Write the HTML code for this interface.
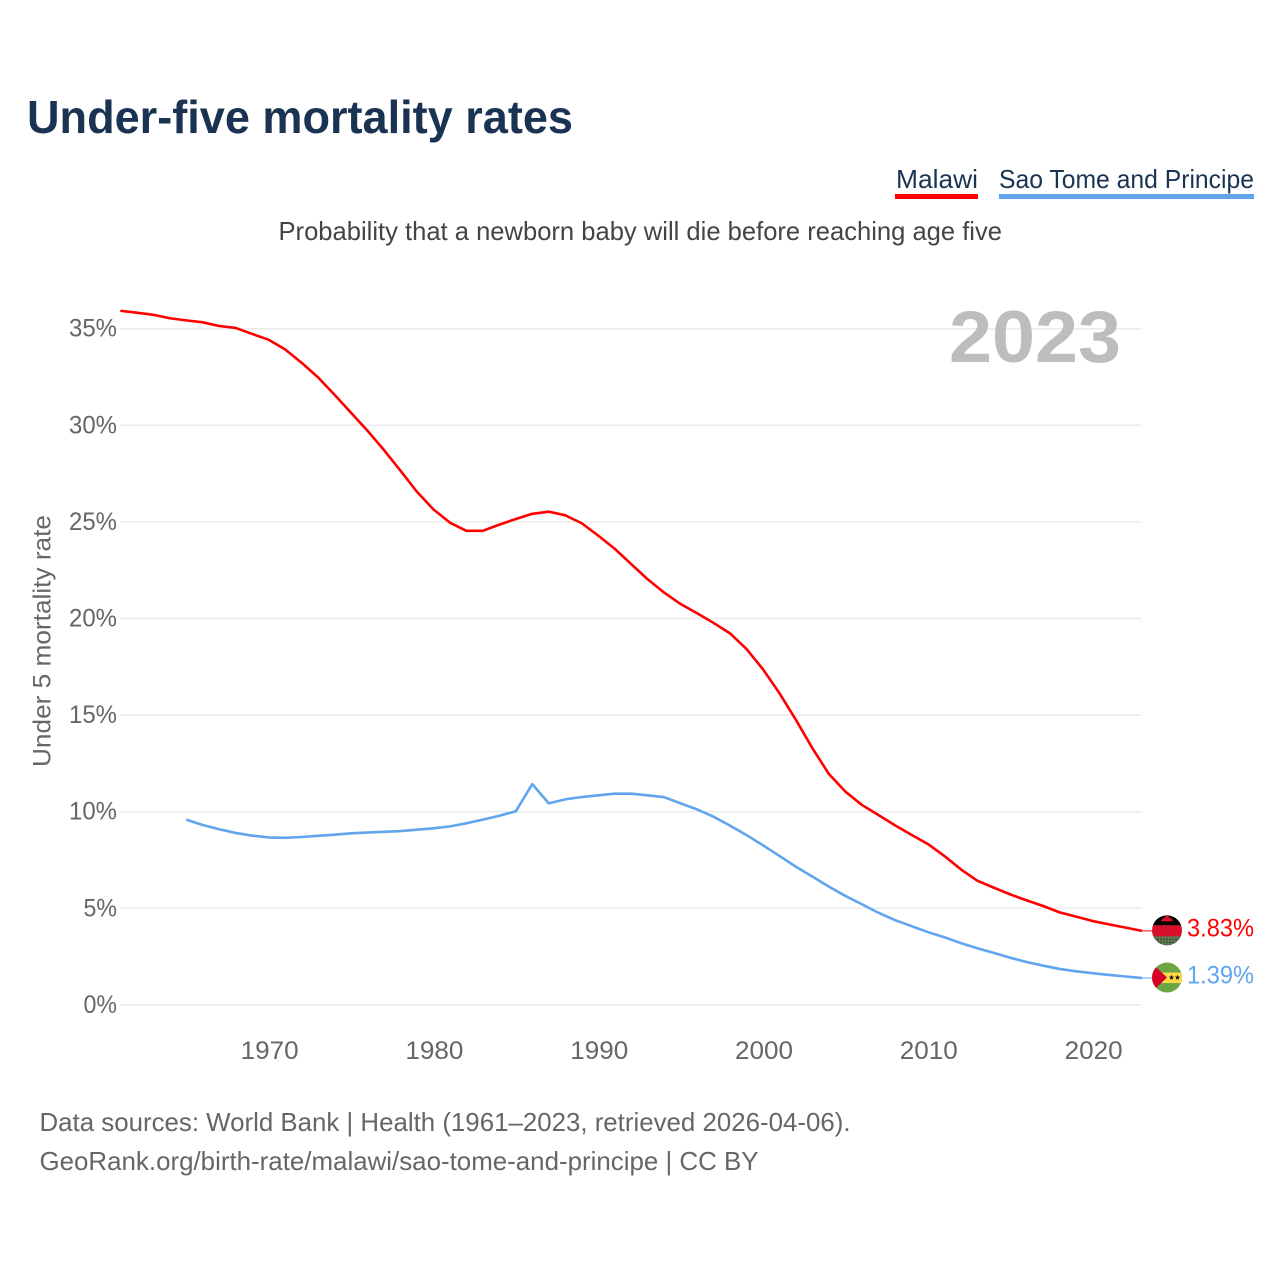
<!DOCTYPE html>
<html lang="en">
<head>
<meta charset="utf-8">
<title>Under-five mortality rates</title>
<style>
html,body{margin:0;padding:0;background:#fff;}
svg{display:block;font-family:"Liberation Sans",Arial,sans-serif;}
</style>
</head>
<body>
<svg id="chart" xmlns="http://www.w3.org/2000/svg" width="1280" height="1280" viewBox="0 0 1280 1280">
  <defs>
    <clipPath id="flag-clip"><circle cx="0" cy="0" r="15"/></clipPath>
    <pattern id="flag-dots" width="3" height="3" patternUnits="userSpaceOnUse">
      <rect width="3" height="3" fill="#46613a"/>
      <circle cx="1.5" cy="1.5" r="0.8" fill="#8f9a86"/>
    </pattern>
  </defs>
  <rect width="1280" height="1280" fill="#fff"/>
  <text x="27" y="133" font-size="46" font-weight="700" fill="#1a3353" textLength="546" lengthAdjust="spacingAndGlyphs">Under-five mortality rates</text>

  <g>
    <g>
      <text x="896" y="188" font-size="26" fill="#1a3353" textLength="82" lengthAdjust="spacingAndGlyphs">Malawi</text>
      <rect x="895" y="194" width="83" height="5" fill="#ff0000"/>
    </g>
    <g>
      <text x="999" y="188" font-size="26" fill="#1a3353" textLength="255" lengthAdjust="spacingAndGlyphs">Sao Tome and Principe</text>
      <rect x="999" y="194" width="255" height="5" fill="#60a5ee"/>
    </g>
  </g>

  <text x="278.5" y="240" font-size="26" fill="#444" textLength="723.5" lengthAdjust="spacingAndGlyphs">Probability that a newborn baby will die before reaching age five</text>

  <g id="grid"></g>
  <g id="yticks"></g>
  <g id="xticks"></g>

  <text transform="translate(50.5,767) rotate(-90)" x="0" y="0" font-size="25" fill="#666" textLength="252" lengthAdjust="spacingAndGlyphs">Under 5 mortality rate</text>

  <text x="949" y="362" font-size="73" font-weight="700" fill="#bdbdbd" textLength="172" lengthAdjust="spacingAndGlyphs">2023</text>

  <g id="series"></g>
  <g id="flags"></g>

  <text x="39.5" y="1131" font-size="26" fill="#666" textLength="811" lengthAdjust="spacingAndGlyphs">Data sources: World Bank | Health (1961–2023, retrieved 2026-04-06).</text>
  <text x="39.5" y="1170" font-size="26" fill="#666" textLength="719" lengthAdjust="spacingAndGlyphs">GeoRank.org/birth-rate/malawi/sao-tome-and-principe | CC BY</text>
</svg>

<script>
const malawiStartYear = 1961;
const saoTomeStartYear = 1965;
const malawiValues = [
  35.93,35.83,35.72,35.54,35.43,35.33,35.14,35.04,34.73,34.43,
  33.93,33.24,32.48,31.58,30.65,29.72,28.72,27.65,26.56,25.65,
  24.96,24.54,24.54,24.86,25.15,25.42,25.53,25.34,24.93,24.29,
  23.61,22.82,22.03,21.34,20.75,20.27,19.77,19.23,18.42,17.37,
  16.13,14.75,13.28,11.95,11.04,10.35,9.83,9.30,8.81,8.33,
  7.71,7.02,6.43,6.07,5.72,5.41,5.12,4.79,4.57,4.34,
  4.17,4.00,3.83
];
const saoTomeValues = [
  9.59,9.31,9.09,8.90,8.76,8.67,
  8.65,8.69,8.75,8.81,8.88,8.92,8.96,9.00,9.07,9.14,
  9.24,9.40,9.59,9.79,10.02,11.43,10.43,10.64,10.76,10.85,
  10.93,10.93,10.85,10.75,10.43,10.12,9.74,9.28,8.79,8.26,
  7.71,7.15,6.64,6.12,5.64,5.21,4.77,4.39,4.08,3.77,
  3.50,3.20,2.93,2.69,2.44,2.22,2.03,1.86,1.74,1.64,
  1.55,1.47,1.39
];
const yTickValues = [0,5,10,15,20,25,30,35];
const xTickYears = [1970,1980,1990,2000,2010,2020];

const NS = 'http://www.w3.org/2000/svg';
const xScale = year => 120.3 + (year - 1961) * 16.48;
const yScale = value => 1004.9 - value * 19.32;
const RED = '#ff0000';
const BLUE = '#60a5ee';

function make(tag, attrs, parent, text) {
  const el = document.createElementNS(NS, tag);
  for (const k in attrs) el.setAttribute(k, attrs[k]);
  if (text !== undefined) el.textContent = text;
  parent.appendChild(el);
  return el;
}

const gridGroup = document.getElementById('grid');
const yTickGroup = document.getElementById('yticks');
yTickValues.forEach(v => {
  const line = make('line', {x1: 120, x2: 1141.5, y1: yScale(v), y2: yScale(v), stroke: '#ebebeb', 'stroke-width': 1.5}, gridGroup);
  
  
  const label = v + '%';
  const width = 14.5 * String(v).length + 19;
  const t = make('text', {x: 117, y: yScale(v) + 8, 'font-size': 25, fill: '#666', 'text-anchor': 'end', textLength: width, lengthAdjust: 'spacingAndGlyphs'}, yTickGroup, label);
  
  
});

const xTickGroup = document.getElementById('xticks');
xTickYears.forEach(yr => {
  const t = make('text', {x: xScale(yr) + 1, y: 1059, 'font-size': 25, fill: '#666', 'text-anchor': 'middle', textLength: 58, lengthAdjust: 'spacingAndGlyphs'}, xTickGroup, String(yr));
  
  
});

const seriesGroup = document.getElementById('series');
function drawLine(values, startYear, color) {
  const pts = values.map((v, i) => xScale(startYear + i).toFixed(2) + ',' + yScale(v).toFixed(2)).join(' ');
  return make('polyline', {points: pts, fill: 'none', stroke: color, 'stroke-width': 2.6, 'stroke-linejoin': 'round', 'stroke-linecap': 'butt'}, seriesGroup);
}
const malawiLine = drawLine(malawiValues, malawiStartYear, RED);


const saoTomeLine = drawLine(saoTomeValues, saoTomeStartYear, BLUE);



const flagsGroup = document.getElementById('flags');
const endX = xScale(2023);

function endParts(values, color) {
  const last = values[values.length - 1];
  const yPos = yScale(last);
  const lead = make('line', {x1: endX, x2: 1152, y1: yPos, y2: yPos, stroke: color, 'stroke-width': 1}, flagsGroup);
  const g = make('g', {transform: 'translate(1167,' + (yPos - 0.5).toFixed(2) + ')', 'clip-path': 'url(#flag-clip)'}, flagsGroup);
  const label = make('text', {x: 1187, y: yPos + 5.5, 'font-size': 25, fill: color, textLength: 67, lengthAdjust: 'spacingAndGlyphs'}, flagsGroup, last.toFixed(2) + '%');
  return {lead, g, label};
}

const malawiEnd = endParts(malawiValues, RED);






make('rect', {x: -16, y: -16, width: 32, height: 11, fill: '#000'}, malawiEnd.g);
make('rect', {x: -16, y: -5, width: 32, height: 11, fill: '#d8102c'}, malawiEnd.g);
make('rect', {x: -16, y: 6, width: 32, height: 11, fill: 'url(#flag-dots)'}, malawiEnd.g);
make('path', {d: 'M-6,-9 a6,4 0 0 1 12,0 z', fill: '#d8102c'}, malawiEnd.g);
make('path', {d: 'M-2.5,-12 a2.5,2.5 0 0 1 5,0 z', fill: '#d8102c'}, malawiEnd.g);

const saoEnd = endParts(saoTomeValues, BLUE);






make('rect', {x: -16, y: -16, width: 32, height: 32, fill: '#6da544'}, saoEnd.g);
make('rect', {x: -16, y: -5, width: 32, height: 10.5, fill: '#ffda44'}, saoEnd.g);
make('polygon', {points: '-16,-15 0,0 -16,15', fill: '#d80027'}, saoEnd.g);
[4.5, 10.5].forEach(cx => {
  const star = [];
  for (let i = 0; i < 10; i++) {
    const r = i % 2 ? 1.2 : 2.9;
    const a = -Math.PI / 2 + i * Math.PI / 5;
    star.push((cx + r * Math.cos(a)).toFixed(2) + ',' + (r * Math.sin(a)).toFixed(2));
  }
  make('polygon', {points: star.join(' '), fill: '#111'}, saoEnd.g);
});
</script>
</body>
</html>
